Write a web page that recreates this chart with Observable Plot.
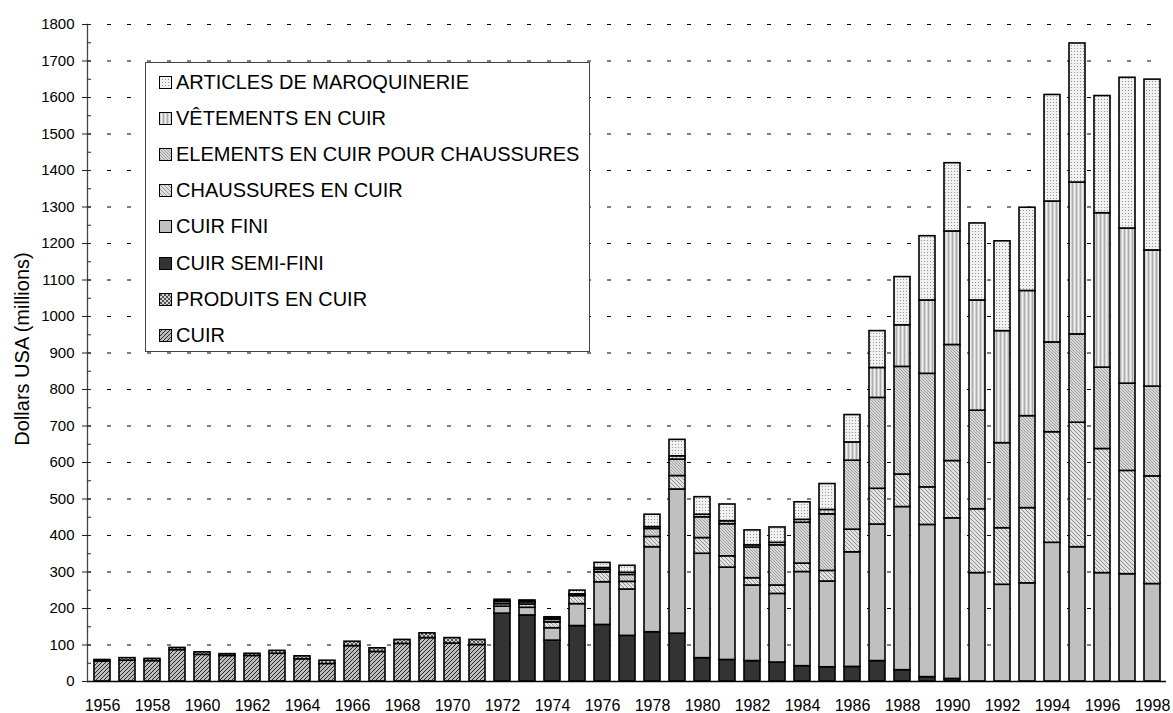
<!DOCTYPE html>
<html><head><meta charset="utf-8">
<script src="https://cdn.jsdelivr.net/npm/d3@7"></script>
<script src="https://cdn.jsdelivr.net/npm/@observablehq/plot@0.6"></script>
<style>
body{margin:0;background:#fff;font-family:"Liberation Sans",Arial,sans-serif;}
#wrap{position:relative;width:1173px;height:713px;overflow:hidden;}
#ytitle{position:absolute;left:22px;top:349px;transform:translate(-50%,-50%) rotate(-90deg);font-size:20px;white-space:nowrap;color:#000;}
#legend{position:absolute;left:145px;top:62px;width:445px;height:290px;border:1px solid #444;background:#fff;box-sizing:border-box;padding-top:1px;padding-left:13px;}
.row{display:flex;align-items:center;height:36.2px;font-size:20px;color:#000;white-space:nowrap;}
.row svg{margin-right:4px;flex:none;}
</style></head><body>
<svg width="0" height="0" style="position:absolute">
<defs>
<pattern id="p-cuir" patternUnits="userSpaceOnUse" width="4" height="4">
 <rect width="4" height="4" fill="#bcbcbc"/>
 <path d="M-1,1L1,-1M0,4L4,0M3,5L5,3" stroke="#2a2a2a" stroke-width="1"/>
</pattern>
<pattern id="p-prod" patternUnits="userSpaceOnUse" width="4" height="4">
 <rect width="4" height="4" fill="#d4d4d4"/>
 <path d="M0,0L4,4M4,0L0,4" stroke="#333" stroke-width="0.8"/>
</pattern>
<pattern id="p-ch" patternUnits="userSpaceOnUse" width="4" height="4">
 <rect width="4" height="4" fill="#e2e2e2"/>
 <path d="M-1,3L1,5M0,0L4,4M3,-1L5,1" stroke="#888" stroke-width="0.9"/>
</pattern>
<pattern id="p-el" patternUnits="userSpaceOnUse" width="3" height="3">
 <rect width="3" height="3" fill="#d8d8d8"/>
 <path d="M-1,2L1,4M0,0L3,3M2,-1L4,1" stroke="#858585" stroke-width="0.7"/>
</pattern>
<pattern id="p-ve" patternUnits="userSpaceOnUse" width="4" height="4">
 <rect width="4" height="4" fill="#d2d2d2"/>
 <rect x="0" width="1" height="4" fill="#acacac"/>
 <rect x="2" width="1" height="4" fill="#efefef"/>
</pattern>
<pattern id="p-ar" patternUnits="userSpaceOnUse" width="3" height="3">
 <rect width="3" height="3" fill="#f1f1f1"/>
 <rect width="1" height="1" fill="#959595"/>
</pattern>
</defs></svg>
<div id="wrap"></div>
<script>
const years = [1956,1957,1958,1959,1960,1961,1962,1963,1964,1965,1966,1967,1968,1969,1970,1971,
  1972,1973,1974,1975,1976,1977,1978,1979,1980,1981,1982,1983,1984,1985,1986,1987,1988,1989,1990,
  1991,1992,1993,1994,1995,1996,1997,1998];
const yearTicks = [1956,1958,1960,1962,1964,1966,1968,1970,1972,1974,1976,1978,1980,1982,1984,1986,1988,1990,1992,1994,1996,1998];
const valueTicks = [0,100,200,300,400,500,600,700,800,900,1000,1100,1200,1300,1400,1500,1600,1700,1800];
const minorTicks = [50,150,250,350,450,550,650,750,850,950,1050,1150,1250,1350,1450,1550,1650,1750];

// series, bottom to top of each stack
const seriesNames = ["CUIR","PRODUITS EN CUIR","CUIR SEMI-FINI","CUIR FINI","CHAUSSURES EN CUIR",
  "ELEMENTS EN CUIR POUR CHAUSSURES","VÊTEMENTS EN CUIR","ARTICLES DE MAROQUINERIE"];
const patterns = ["url(#p-cuir)","url(#p-prod)","#333333","#c0c0c0","url(#p-ch)","url(#p-el)","url(#p-ve)","url(#p-ar)"];

const cuir = [55,57,56,86,73,70,70,76,61,48,97,81,103,119,104,100,
  0,0,0,0,0,0,0,0,0,0,0,0,0,0,0,0,0,0,0,0,0,0,0,0,0,0,0];
const produitsEnCuir = [4,7,6,6,7,5,6,8,8,9,12,10,11,13,15,14,
  0,0,0,0,0,0,0,0,0,0,0,0,0,0,0,0,0,0,0,0,0,0,0,0,0,0,0];
const cuirSemiFini = [0,0,0,0,0,0,0,0,0,0,0,0,0,0,0,0,
  186,181,112,152,155,125,135,131,64,59,56,52,42,39,40,56,31,12,7,0,0,0,0,0,0,0,0];
const cuirFini = [0,0,0,0,0,0,0,0,0,0,0,0,0,0,0,0,
  19,21,34,60,117,127,233,395,286,253,207,188,258,235,314,374,447,417,440,297,265,269,380,368,297,294,267];
const chaussures = [0,0,0,0,0,0,0,0,0,0,0,0,0,0,0,0,
  7,9,16,22,27,21,28,37,43,31,20,23,23,29,62,98,89,103,157,175,155,206,303,341,340,283,295];
const elements = [0,0,0,0,0,0,0,0,0,0,0,0,0,0,0,0,
  6,6,7,3,7,19,22,45,57,88,84,110,112,155,189,249,295,311,318,270,233,252,246,242,223,239,246];
const vetements = [0,0,0,0,0,0,0,0,0,0,0,0,0,0,0,0,
  2,2,4,2,5,6,5,9,7,8,6,7,8,12,50,82,114,201,311,302,307,343,386,416,423,425,373];
const articles = [0,0,0,0,0,0,0,0,0,0,0,0,0,0,0,0,
  4,3,3,10,14,19,34,45,48,46,41,42,48,71,75,101,132,176,187,211,246,228,292,381,321,413,468];

const seriesValues = [cuir, produitsEnCuir, cuirSemiFini, cuirFini, chaussures, elements, vetements, articles];

const rows = [];
years.forEach((yr, i) => {
  seriesNames.forEach((s, k) => {
    const v = seriesValues[k][i];
    if (v > 0) rows.push({year: yr, series: s, value: v});
  });
});

const plain = d => String(d);

const chart = Plot.plot({
  width: 1173, height: 713,
  marginLeft: 87, marginRight: 7, marginTop: 24, marginBottom: 32,
  style: {fontFamily: '"Liberation Sans", Arial, sans-serif', background: "transparent", color: "#000"},
  x: {type: "band", domain: years, paddingInner: 0.38, paddingOuter: 0.19, axis: null},
  y: {domain: [0, 1800], axis: null},
  color: {type: "ordinal", domain: seriesNames, range: patterns, legend: false},
  marks: [
    Plot.gridY(valueTicks.filter(d => d > 0), {stroke: "#000", strokeOpacity: 1, strokeWidth: 1, strokeDasharray: "4,16"}),
    Plot.barY(rows, Plot.stackY({x: "year", y: "value", fill: "series", stroke: "#000", strokeWidth: 1.6})),
    Plot.ruleY([0], {stroke: "#000", strokeWidth: 1.3}),
    Plot.frame({anchor: "left", stroke: "#444", strokeWidth: 1.3}),
    Plot.axisY(valueTicks, {tickSize: 0, tickPadding: 13, fontSize: 15, label: null, tickFormat: plain}),
    Plot.axisY(valueTicks, {text: null, tickSize: 9, dx: 4, label: null, stroke: "#222"}),
    Plot.axisY(minorTicks, {text: null, tickSize: 4, dx: 4, label: null, stroke: "#222"}),
    Plot.axisX(yearTicks, {tickSize: 0, tickPadding: 18, fontSize: 16, label: null, tickFormat: plain})
  ]
});

const wrap = document.getElementById("wrap");
wrap.appendChild(chart);

const title = document.createElement("div");
title.id = "ytitle";
title.textContent = "Dollars USA (millions)";
wrap.appendChild(title);

const legend = document.createElement("div");
legend.id = "legend";
for (let k = seriesNames.length - 1; k >= 0; k--) {
  const row = document.createElement("div");
  row.className = "row";
  row.innerHTML = `<svg width="13" height="13"><rect x="0.5" y="0.5" width="12" height="12" fill="${patterns[k]}" stroke="#000" stroke-width="1"/></svg><span>${seriesNames[k]}</span>`;
  legend.appendChild(row);
}
wrap.appendChild(legend);
</script>
</body></html>
